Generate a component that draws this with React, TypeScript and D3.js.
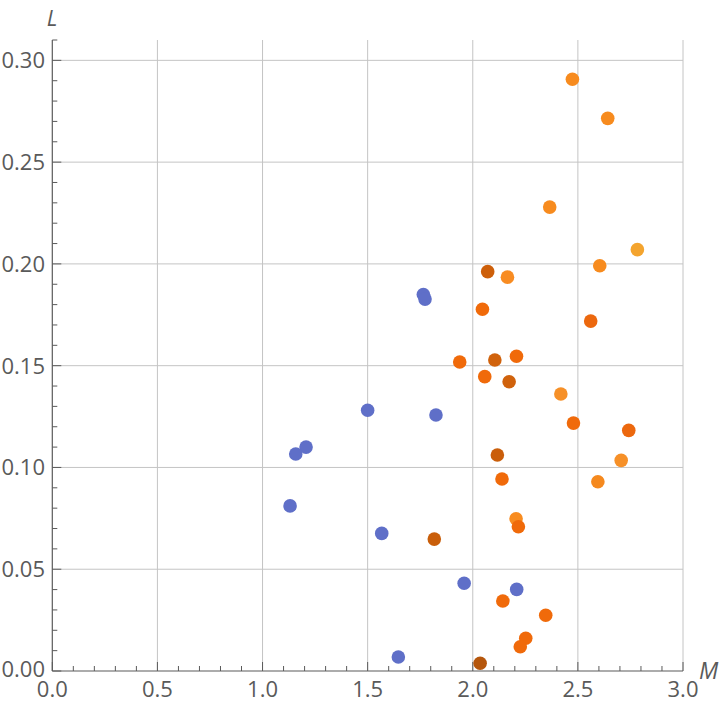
import React from "react";
import { scaleLinear, range } from "d3";

// blue series (M, L)
const blueM = [1.765, 1.773, 1.5, 1.825, 1.207, 1.158, 1.131, 1.567, 1.959, 2.209, 1.646];
const blueL = [0.185, 0.1827, 0.1281, 0.1258, 0.11, 0.1066, 0.0811, 0.0676, 0.0431, 0.0401, 0.0069];

// orange series (M, L, colour)
const orangeM = [
  2.474, 2.642, 2.366, 2.783, 2.604, 2.071, 2.165, 2.046, 2.561, 1.938,
  2.105, 2.208, 2.057, 2.173, 2.419, 2.479, 2.742, 2.117, 2.139, 2.706,
  2.595, 2.206, 2.217, 1.817, 2.143, 2.347, 2.252, 2.226, 2.035,
];
const orangeL = [
  0.2907, 0.2715, 0.2279, 0.207, 0.1991, 0.1962, 0.1935, 0.1777, 0.1719, 0.1518,
  0.1528, 0.1546, 0.1446, 0.1421, 0.1361, 0.1218, 0.1182, 0.1061, 0.0943, 0.1035,
  0.093, 0.0748, 0.0709, 0.0648, 0.0344, 0.0274, 0.0161, 0.0119, 0.0038,
];
const orangeC = [
  "#f78b1e", "#f78b1e", "#f78b1e", "#f4a42e", "#f78b1e", "#cd5f0a", "#f88c22", "#f06a0a", "#ec680e", "#f06a0a",
  "#d0620c", "#f06a0a", "#f06a0a", "#d0620c", "#f69028", "#f06a0a", "#ec680e", "#ca5e0a", "#f06a0a", "#f69028",
  "#f5891e", "#f88c20", "#f06a0a", "#c95e0a", "#f06a0a", "#f06a0a", "#f06a0a", "#f06a0a", "#b5560c",
];
const blueColor = "#5f6fc8";

const xMajor = [0, 0.5, 1, 1.5, 2, 2.5, 3];
const yMajor = [0, 0.05, 0.1, 0.15, 0.2, 0.25, 0.3];

const W = 720;
const H = 704;
const FONT = "'Open Sans', 'DejaVu Sans', sans-serif";
const AXIS = "#5a5a5a";
const GRID = "#c4c4c4";

export default function App() {
  document.body.style.margin = "0";

  const x = scaleLinear().domain([0, 3]).range([52.3, 683]);
  const y = scaleLinear().domain([0, 0.31]).range([671, 40]);

  const x0 = x(0);
  const y0 = y(0);
  const xMinor = range(0, 31).map((i) => i / 10);
  const yMinor = range(0, 32).map((i) => i / 100);

  return (
    <svg width={W} height={H} style={{ display: "block" }} fontFamily={FONT}>
      <rect width={W} height={H} fill="#fff" />

      {/* grid */}
      {xMajor.filter((d) => d > 0).map((d) => (
        <line key={"gx" + d} x1={x(d)} x2={x(d)} y1={y0} y2={y(0.31)} stroke={GRID} strokeWidth={1} />
      ))}
      {yMajor.filter((d) => d > 0).map((d) => (
        <line key={"gy" + d} x1={x0} x2={x(3)} y1={y(d)} y2={y(d)} stroke={GRID} strokeWidth={1} />
      ))}

      {/* ticks */}
      {xMinor.map((d, i) => (
        <line key={"tx" + i} x1={x(d)} x2={x(d)} y1={y0} y2={y0 - (i % 5 === 0 ? 9 : 5)} stroke={AXIS} strokeWidth={1} />
      ))}
      {yMinor.map((d, i) => (
        <line key={"ty" + i} x1={x0} x2={x0 + (i % 5 === 0 ? 9 : 5)} y1={y(d)} y2={y(d)} stroke={AXIS} strokeWidth={1} />
      ))}

      {/* axes */}
      <line x1={x0} x2={x(3)} y1={y0} y2={y0} stroke={AXIS} strokeWidth={1.2} />
      <line x1={x0} x2={x0} y1={y0} y2={y(0.31)} stroke={AXIS} strokeWidth={1.2} />

      {/* tick labels */}
      {xMajor.map((d) => (
        <text key={"lx" + d} x={x(d)} y={697} textAnchor="middle" fontSize={22} fill={AXIS}>
          {d.toFixed(1)}
        </text>
      ))}
      {yMajor.map((d) => (
        <text key={"ly" + d} x={45} y={y(d) + (d === 0 ? 6 : 8)} textAnchor="end" fontSize={22} fill={AXIS}>
          {d.toFixed(2)}
        </text>
      ))}

      {/* axis labels */}
      <text x={52} y={26} textAnchor="middle" fontSize={22} fontStyle="italic" fill={AXIS}>L</text>
      <text x={699} y={679} fontSize={23} fontStyle="italic" fill={AXIS}>M</text>

      {/* points */}
      {blueM.map((m, i) => (
        <circle key={"b" + i} cx={x(m)} cy={y(blueL[i])} r={6.8} fill={blueColor} />
      ))}
      {orangeM.map((m, i) => (
        <circle key={"o" + i} cx={x(m)} cy={y(orangeL[i])} r={6.8} fill={orangeC[i]} />
      ))}
    </svg>
  );
}
